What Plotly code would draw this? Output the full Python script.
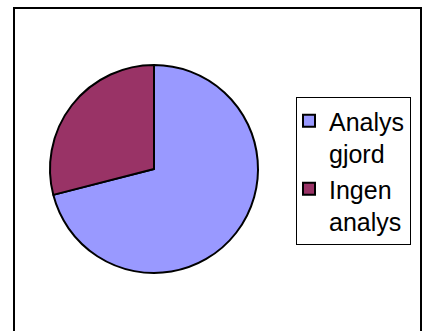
import plotly.graph_objects as go

labels = ["Analys<br>gjord", "Ingen<br>analys"]
values = [71, 29]
colors = ["#9999FF", "#993366"]

W, H = 423, 331

fig = go.Figure()
fig.add_trace(go.Pie(
    labels=labels,
    values=values,
    sort=False,
    direction="clockwise",
    rotation=0,
    textinfo="none",
    hoverinfo="label+percent",
    marker=dict(colors=colors, line=dict(color="black", width=2)),
    domain=dict(x=[50 / W, 258 / W], y=[(H - 273) / H, (H - 65) / H]),
))

fig.add_shape(type="rect", xref="paper", yref="paper",
              x0=14 / W, x1=421 / W, y0=-0.05, y1=1 - 8 / H,
              line=dict(color="black", width=2), fillcolor="rgba(0,0,0,0)")

fig.update_layout(
    width=W, height=H,
    margin=dict(l=0, r=0, t=0, b=0),
    paper_bgcolor="white",
    plot_bgcolor="white",
    showlegend=True,
    legend=dict(
        x=296 / W, y=1 - 97 / H, xanchor="left", yanchor="top",
        bordercolor="black", borderwidth=1, bgcolor="white",
        font=dict(family="Liberation Sans, Arial, sans-serif", size=25, color="black"),
        valign="top",
        indentation=-8,
    ),
)

fig.write_html("out.html")
